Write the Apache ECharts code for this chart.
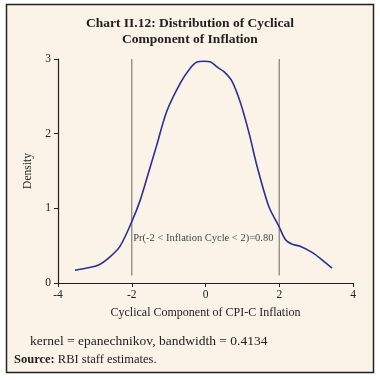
<!DOCTYPE html>
<html><head><meta charset="utf-8">
<script src="https://cdn.jsdelivr.net/npm/echarts@6/dist/echarts.min.js"></script>
<style>html,body{margin:0;padding:0;background:#fff}#c{width:380px;height:380px}</style>
</head><body><div id="c"></div>
<script>
const titleLines = ['Chart II.12: Distribution of Cyclical', 'Component of Inflation'];
const xTicks = [-4, -2, 0, 2, 4];
const yTicks = [0, 1, 2, 3];
const densityX = [-3.54,-3.22,-2.9,-2.59,-2.32,-2.0,-1.77,-1.55,-1.32,-1.05,-0.68,-0.41,-0.23,-0.05,0.14,0.32,0.5,0.72,0.95,1.18,1.4,1.72,1.99,2.17,2.35,2.58,2.89,3.16,3.43];
const densityY = [0.17,0.2,0.24,0.35,0.49,0.82,1.11,1.47,1.85,2.3,2.68,2.88,2.96,2.97,2.96,2.89,2.83,2.7,2.41,2.01,1.56,1.02,0.76,0.58,0.52,0.49,0.41,0.31,0.2];
const boundLow = -2, boundHigh = 2;
const boundYBottom = 0.1, boundYTop = 3.0;
const annotation = 'Pr(-2 < Inflation Cycle < 2)=0.80';
const annotationAt = [-1.96, 0.6];
const xName = 'Cyclical Component of CPI-C Inflation';
const yName = 'Density';
const kernelNote = 'kernel = epanechnikov, bandwidth = 0.4134';
const sourceNote = 'Source:';
const sourceText = ' RBI staff estimates.';

const serif = '"Liberation Serif", "DejaVu Serif", serif';
const chart = echarts.init(document.getElementById('c'));
chart.setOption({
  backgroundColor: '#fff',
  animation: false,
  graphic: [
    {type:'rect', shape:{x:6.5,y:4.5,width:367,height:368}, style:{fill:'#FBF3E7', stroke:'#222', lineWidth:1.5}, z:-10},
    {type:'text', left:'center', top:16, style:{text: titleLines.join('\n'), font:'bold 13.5px '+serif, fill:'#222', textAlign:'center', lineHeight:16}},
    {type:'text', left:30, top:334, style:{text: kernelNote, font:'13.5px '+serif, fill:'#222'}},
    {type:'text', left:14, top:353, style:{text: '{b|'+sourceNote+'}'+sourceText, font:'12.5px '+serif, fill:'#222', rich:{b:{fontWeight:'bold', fontFamily:serif, fontSize:12.5}}}}
  ],
  grid: {left:58, right:27, top:59, bottom:97},
  xAxis: {
    type:'value', min:-4, max:4, interval:2,
    name: xName, nameLocation:'middle', nameGap:24,
    nameTextStyle:{fontFamily:serif, fontSize:12, color:'#222'},
    axisLine:{onZero:false, lineStyle:{color:'#222', width:1.2}},
    axisTick:{show:true, length:4, lineStyle:{color:'#222'}},
    axisLabel:{fontFamily:serif, fontSize:11.5, color:'#222', margin:6, formatter:v=>xTicks.includes(v)?String(v):''},
    splitLine:{show:false}
  },
  yAxis: {
    type:'value', min:0, max:3, interval:1,
    name: yName, nameLocation:'middle', nameGap:20,
    nameTextStyle:{fontFamily:serif, fontSize:11.5, color:'#222'},
    axisLine:{show:true, onZero:false, lineStyle:{color:'#222', width:1.2}},
    axisTick:{show:true, length:4, lineStyle:{color:'#222'}},
    axisLabel:{fontFamily:serif, fontSize:11.5, color:'#222', margin:7, formatter:v=>yTicks.includes(v)?String(v):''},
    splitLine:{show:false}
  },
  series: [
    {type:'line', data:[[boundLow,boundYBottom],[boundLow,boundYTop]], symbol:'none', lineStyle:{color:'#8c8782', width:1.3}, silent:true},
    {type:'line', data:[[boundHigh,boundYBottom],[boundHigh,boundYTop]], symbol:'none', lineStyle:{color:'#8c8782', width:1.3}, silent:true},
    {type:'line', data: densityX.map((x,i)=>[x,densityY[i]]), symbol:'none', smooth:0.3, lineStyle:{color:'#2E2F96', width:1.6}},
    {type:'scatter', data:[annotationAt], symbolSize:0, silent:true, label:{show:true, position:'right', distance:0, formatter:annotation, fontFamily:serif, fontSize:10.5, color:'#111'}}
  ]
});
</script></body></html>
